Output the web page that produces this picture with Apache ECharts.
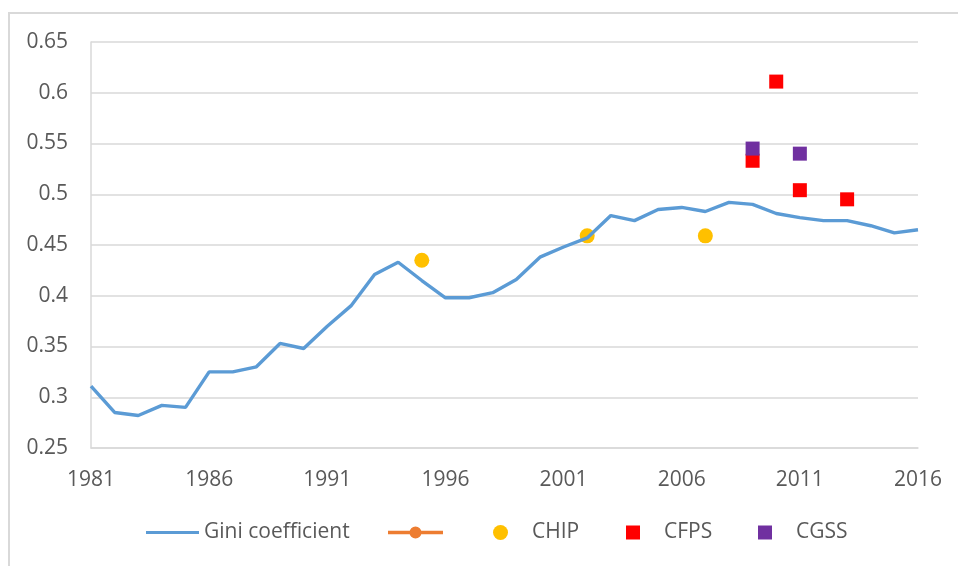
<!DOCTYPE html>
<html>
<head>
<meta charset="utf-8">
<script src="https://cdn.jsdelivr.net/npm/echarts@6/dist/echarts.min.js"></script>
<style>
  html, body { margin: 0; padding: 0; background: #fff; }
  #main { width: 958px; height: 566px; }
</style>
</head>
<body>
<div id="main"></div>
<script>
var chartDom = document.getElementById('main');
var myChart = echarts.init(chartDom);
var option;

const years = [];
for (let y = 1981; y <= 2016; y++) years.push(String(y));

const gini = [
  0.311, 0.285, 0.282, 0.292, 0.290, 0.325, 0.325, 0.330, 0.353, 0.348,
  0.370, 0.390, 0.421, 0.433, 0.415, 0.398, 0.398, 0.403, 0.416, 0.438,
  0.448, 0.457, 0.479, 0.474, 0.485, 0.487, 0.483, 0.492, 0.490, 0.481,
  0.477, 0.474, 0.474, 0.469, 0.462, 0.465
];
const chip = [['1995', 0.435], ['2002', 0.459], ['2007', 0.459]];
const cfps = [['2009', 0.533], ['2010', 0.611], ['2011', 0.504], ['2013', 0.495]];
const cgss = [['2009', 0.545], ['2011', 0.540]];

const textColor = '#595959';
const font = 'Open Sans';
const fs = 21;

// one legend per item so each can sit where the reference puts it
function legendItem(name, left, w, h, extra) {
  return Object.assign({
    bottom: 18,
    left: left,
    itemWidth: w,
    itemHeight: h,
    textStyle: { fontSize: fs, color: textColor, fontFamily: font },
    data: [name]
  }, extra || {});
}
const padText = { fontSize: fs, color: textColor, fontFamily: font, padding: [0, 0, 0, 19] };
// line with a dot in the middle, for the unnamed orange entry
const lineDotIcon = 'path://M0,4.3 L55,4.3 L55,7.7 L0,7.7 Z M21.5,6 a6,6 0 1,1 12,0 a6,6 0 1,1 -12,0 Z';

option = {
  animation: false,
  textStyle: { fontFamily: font },
  grid: { left: 91, right: 40, top: 42, bottom: 118 },
  graphic: [
    {
      type: 'polyline',
      shape: { points: [[9, 566], [9, 13], [958, 13]] },
      style: { stroke: '#d9d9d9', lineWidth: 2, fill: null }
    }
  ],
  legend: [
    legendItem('Gini coefficient', 141, 53, 3, { icon: 'rect' }),
    legendItem(' ', 383, 55, 12, { icon: lineDotIcon }),
    legendItem('CHIP', 488, 15, 15, { textStyle: padText }),
    legendItem('CFPS', 621, 14, 14, { textStyle: padText }),
    legendItem('CGSS', 753, 14, 14, { textStyle: padText })
  ],
  xAxis: {
    type: 'category',
    data: years,
    boundaryGap: false,
    axisLine: { lineStyle: { color: '#d9d9d9', width: 1.5 } },
    axisTick: { show: false },
    axisLabel: {
      interval: 4,
      margin: 22,
      fontSize: fs,
      color: textColor,
      fontFamily: font
    },
    splitLine: { show: false }
  },
  yAxis: {
    type: 'value',
    min: 0.25,
    max: 0.65,
    interval: 0.05,
    axisLine: { show: true, lineStyle: { color: '#d9d9d9', width: 1.5 } },
    axisTick: { show: false },
    axisLabel: {
      margin: 23,
      fontSize: fs,
      color: textColor,
      fontFamily: font,
      formatter: function (v) { return String(+v.toFixed(2)); }
    },
    splitLine: { lineStyle: { color: '#d9d9d9', width: 1.5 } }
  },
  series: [
    {
      name: 'Gini coefficient',
      type: 'line',
      data: gini,
      symbol: 'none',
      lineStyle: { color: '#5b9bd5', width: 3.4 },
      itemStyle: { color: '#5b9bd5' }
    },
    {
      name: ' ',
      type: 'line',
      data: [],
      symbol: 'circle',
      lineStyle: { color: '#ed7d31', width: 3 },
      itemStyle: { color: '#ed7d31' }
    },
    {
      name: 'CHIP',
      type: 'scatter',
      data: chip,
      symbol: 'circle',
      symbolSize: 15,
      itemStyle: { color: '#ffc000', opacity: 1 }
    },
    {
      name: 'CFPS',
      type: 'scatter',
      data: cfps,
      symbol: 'rect',
      symbolSize: 14,
      itemStyle: { color: '#ff0000', opacity: 1 }
    },
    {
      name: 'CGSS',
      type: 'scatter',
      data: cgss,
      symbol: 'rect',
      symbolSize: 14,
      itemStyle: { color: '#7030a0', opacity: 1 }
    }
  ]
};

option && myChart.setOption(option);
</script>
</body>
</html>
